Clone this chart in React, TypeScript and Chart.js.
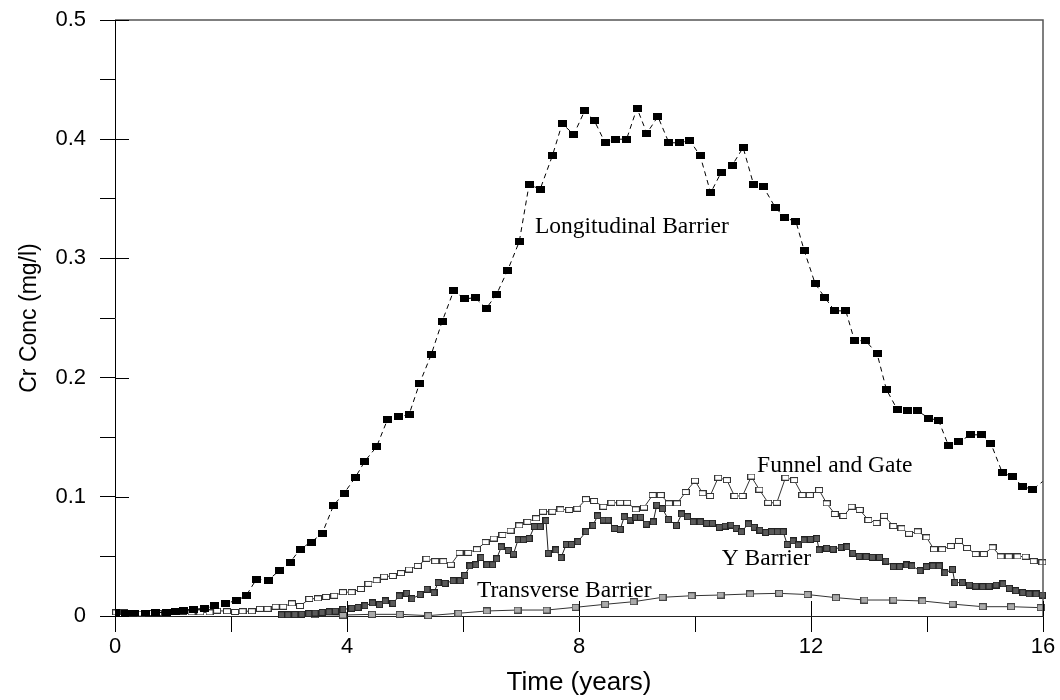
import React, { useEffect, useRef } from 'react';
import { Chart, registerables } from 'chart.js';

Chart.register(...registerables);

// ---- Data (time in years, Cr concentration in mg/l) ----
const longT = [0.0, 0.18, 0.34, 0.52, 0.7, 0.88, 1.05, 1.18, 1.35, 1.55, 1.72, 1.9, 2.09, 2.26, 2.44, 2.64, 2.83, 3.02, 3.19, 3.38, 3.57, 3.77, 3.95, 4.14, 4.31, 4.51, 4.7, 4.88, 5.07, 5.25, 5.45, 5.64, 5.84, 6.02, 6.21, 6.4, 6.58, 6.77, 6.97, 7.14, 7.33, 7.54, 7.71, 7.91, 8.1, 8.26, 8.45, 8.63, 8.82, 9.0, 9.17, 9.36, 9.55, 9.74, 9.91, 10.09, 10.27, 10.45, 10.64, 10.83, 11.01, 11.18, 11.38, 11.55, 11.74, 11.88, 12.07, 12.24, 12.41, 12.6, 12.75, 12.94, 13.14, 13.3, 13.49, 13.66, 13.84, 14.03, 14.2, 14.37, 14.55, 14.75, 14.94, 15.1, 15.3, 15.48, 15.64, 15.82, 16.1];
const longV = [0.003, 0.002, 0.002, 0.002, 0.003, 0.003, 0.004, 0.0045, 0.0056, 0.0065, 0.0084, 0.0107, 0.0128, 0.017, 0.031, 0.03, 0.038, 0.045, 0.056, 0.062, 0.069, 0.093, 0.103, 0.116, 0.13, 0.142, 0.165, 0.167, 0.169, 0.195, 0.219, 0.247, 0.273, 0.266, 0.267, 0.258, 0.27, 0.29, 0.314, 0.362, 0.358, 0.386, 0.413, 0.404, 0.424, 0.416, 0.397, 0.4, 0.4, 0.426, 0.405, 0.419, 0.397, 0.397, 0.399, 0.386, 0.355, 0.372, 0.378, 0.393, 0.362, 0.36, 0.343, 0.334, 0.331, 0.307, 0.279, 0.267, 0.256, 0.256, 0.231, 0.231, 0.22, 0.19, 0.173, 0.172, 0.172, 0.166, 0.164, 0.143, 0.146, 0.152, 0.152, 0.145, 0.12, 0.117, 0.109, 0.106, 0.117];

const funnelT = [0.02, 0.16, 0.31, 0.45, 0.6, 0.74, 0.89, 1.03, 1.18, 1.32, 1.47, 1.63, 1.76, 1.93, 2.07, 2.2, 2.36, 2.5, 2.63, 2.77, 2.9, 3.05, 3.19, 3.35, 3.5, 3.64, 3.78, 3.93, 4.08, 4.24, 4.37, 4.51, 4.64, 4.79, 4.93, 5.07, 5.22, 5.37, 5.52, 5.66, 5.79, 5.94, 6.09, 6.24, 6.39, 6.53, 6.68, 6.82, 6.97, 7.11, 7.26, 7.38, 7.54, 7.68, 7.83, 7.97, 8.12, 8.26, 8.42, 8.56, 8.71, 8.83, 8.98, 9.12, 9.27, 9.41, 9.55, 9.69, 9.84, 10.0, 10.13, 10.26, 10.4, 10.55, 10.68, 10.82, 10.97, 11.11, 11.26, 11.41, 11.56, 11.71, 11.85, 11.98, 12.14, 12.27, 12.41, 12.56, 12.7, 12.84, 12.99, 13.13, 13.26, 13.42, 13.56, 13.69, 13.84, 13.99, 14.12, 14.26, 14.41, 14.55, 14.69, 14.84, 14.98, 15.13, 15.27, 15.41, 15.56, 15.7, 15.84, 15.99];
const funnelV = [0.003, 0.003, 0.0025, 0.002, 0.0025, 0.0025, 0.003, 0.003, 0.0035, 0.003, 0.003, 0.003, 0.0045, 0.004, 0.0034, 0.004, 0.004, 0.006, 0.006, 0.0078, 0.0078, 0.0106, 0.0084, 0.0143, 0.0148, 0.016, 0.017, 0.02, 0.02, 0.0227, 0.027, 0.03, 0.033, 0.0336, 0.036, 0.039, 0.042, 0.048, 0.046, 0.046, 0.043, 0.053, 0.053, 0.056, 0.062, 0.065, 0.068, 0.0716, 0.076, 0.079, 0.082, 0.0875, 0.0875, 0.0895, 0.089, 0.09, 0.098, 0.0965, 0.0917, 0.095, 0.095, 0.095, 0.0895, 0.091, 0.1015, 0.1015, 0.0945, 0.0945, 0.104, 0.1135, 0.103, 0.1007, 0.116, 0.114, 0.1007, 0.1007, 0.117, 0.106, 0.095, 0.095, 0.116, 0.114, 0.1015, 0.1015, 0.1057, 0.0945, 0.0856, 0.0839, 0.0917, 0.089, 0.0805, 0.078, 0.084, 0.0755, 0.0736, 0.069, 0.071, 0.066, 0.056, 0.056, 0.0587, 0.063, 0.057, 0.052, 0.052, 0.0576, 0.05, 0.05, 0.05, 0.0498, 0.046, 0.045];

const yBarT = [2.87, 2.98, 3.1, 3.22, 3.34, 3.45, 3.57, 3.69, 3.8, 3.93, 4.08, 4.19, 4.31, 4.44, 4.56, 4.66, 4.79, 4.9, 5.03, 5.12, 5.26, 5.38, 5.5, 5.57, 5.69, 5.83, 5.95, 6.03, 6.12, 6.22, 6.31, 6.41, 6.51, 6.58, 6.66, 6.78, 6.87, 6.95, 7.04, 7.14, 7.23, 7.33, 7.43, 7.47, 7.6, 7.69, 7.78, 7.87, 7.98, 8.12, 8.24, 8.32, 8.42, 8.5, 8.61, 8.71, 8.78, 8.88, 8.98, 9.06, 9.16, 9.28, 9.34, 9.44, 9.54, 9.68, 9.77, 9.87, 9.97, 10.09, 10.2, 10.3, 10.42, 10.52, 10.62, 10.71, 10.8, 10.92, 11.02, 11.12, 11.22, 11.32, 11.42, 11.52, 11.59, 11.69, 11.78, 11.88, 11.99, 12.1, 12.14, 12.27, 12.38, 12.52, 12.62, 12.72, 12.83, 12.95, 13.06, 13.18, 13.29, 13.42, 13.53, 13.65, 13.74, 13.88, 13.99, 14.1, 14.21, 14.31, 14.44, 14.48, 14.61, 14.73, 14.84, 14.96, 15.07, 15.19, 15.31, 15.42, 15.53, 15.65, 15.76, 15.88, 15.99];
const yBarV = [0.001, 0.001, 0.0012, 0.0015, 0.002, 0.0025, 0.003, 0.0035, 0.004, 0.0055, 0.0065, 0.0072, 0.0086, 0.011, 0.0095, 0.0126, 0.0106, 0.0168, 0.019, 0.0145, 0.018, 0.0224, 0.0196, 0.028, 0.0274, 0.0296, 0.0296, 0.034, 0.042, 0.043, 0.049, 0.043, 0.043, 0.048, 0.058, 0.055, 0.052, 0.064, 0.064, 0.065, 0.075, 0.075, 0.08, 0.0526, 0.0554, 0.049, 0.06, 0.06, 0.0623, 0.0707, 0.076, 0.084, 0.0805, 0.0805, 0.0735, 0.0727, 0.0833, 0.0805, 0.0828, 0.0828, 0.077, 0.079, 0.093, 0.09, 0.081, 0.076, 0.0856, 0.0833, 0.079, 0.079, 0.0778, 0.0778, 0.0744, 0.0755, 0.0763, 0.0736, 0.0707, 0.0772, 0.0744, 0.072, 0.07, 0.0707, 0.0707, 0.0707, 0.06, 0.063, 0.0596, 0.0638, 0.0643, 0.065, 0.0554, 0.0568, 0.056, 0.0576, 0.058, 0.0526, 0.05, 0.0498, 0.0492, 0.0492, 0.046, 0.0414, 0.0414, 0.0428, 0.042, 0.038, 0.0414, 0.042, 0.042, 0.0363, 0.039, 0.028, 0.028, 0.026, 0.025, 0.0246, 0.025, 0.026, 0.027, 0.0232, 0.0212, 0.0196, 0.0185, 0.0185, 0.0176];

const transT = [2.96, 3.45, 3.93, 4.43, 4.91, 5.4, 5.92, 6.41, 6.94, 7.44, 7.94, 8.45, 8.94, 9.44, 9.94, 10.44, 10.95, 11.45, 11.94, 12.43, 12.92, 13.42, 13.92, 14.44, 14.96, 15.45, 15.96];
const transV = [0.001, 0.001, 0.0008, 0.0014, 0.0014, 0.0003, 0.0023, 0.0042, 0.005, 0.005, 0.0073, 0.0098, 0.012, 0.0157, 0.017, 0.0176, 0.0185, 0.019, 0.018, 0.0154, 0.0134, 0.0134, 0.0126, 0.01, 0.0078, 0.0078, 0.007];

const seriesNames = ['Longitudinal Barrier', 'Funnel and Gate', 'Y Barrier', 'Transverse Barrier'];
const labelT = [7.24, 11.07, 10.46, 6.24];
const labelV = [0.321, 0.121, 0.0428, 0.0157];

const xTickLabels = ['0', '4', '8', '12', '16'];
const yTickLabels = ['0', '0.1', '0.2', '0.3', '0.4', '0.5'];

const xTitle = 'Time (years)';
const yTitle = 'Cr Conc (mg/l)';

function makeMarker(w: number, h: number, fill: string, stroke: string | null) {
  const c = document.createElement('canvas');
  c.width = w;
  c.height = h;
  const g = c.getContext('2d')!;
  g.fillStyle = fill;
  g.fillRect(0, 0, w, h);
  if (stroke) {
    g.strokeStyle = stroke;
    g.lineWidth = 1;
    g.strokeRect(0.5, 0.5, w - 1, h - 1);
  }
  return c;
}

function toPoints(t: number[], v: number[]) {
  return t.map((x, i) => ({ x, y: v[i] }));
}

function isLabelled(list: string[], v: number) {
  return list.find((l) => Math.abs(Number(l) - v) < 1e-9);
}

const framePlugin = {
  id: 'frame',
  afterDatasetsDraw(chart: any) {
    const { ctx, chartArea } = chart;
    const { left, right, top, bottom } = chartArea;
    const xs = chart.scales.x;
    const ys = chart.scales.y;
    ctx.save();
    ctx.strokeStyle = '#555';
    ctx.lineWidth = 1.5;
    ctx.beginPath();
    ctx.moveTo(left, top);
    ctx.lineTo(right, top);
    ctx.lineTo(right, bottom);
    ctx.stroke();

    ctx.strokeStyle = '#000';
    ctx.lineWidth = 1;
    ctx.beginPath();
    xs.ticks.forEach((tk: any) => {
      if (isLabelled(xTickLabels, tk.value)) {
        const px = Math.round(xs.getPixelForValue(tk.value)) + 0.5;
        ctx.moveTo(px, bottom);
        ctx.lineTo(px, bottom - 15);
      }
    });
    ys.ticks.forEach((tk: any) => {
      if (isLabelled(yTickLabels, tk.value)) {
        const py = Math.round(ys.getPixelForValue(tk.value)) + 0.5;
        ctx.moveTo(left, py);
        ctx.lineTo(left + 14, py);
      }
    });
    ctx.stroke();

    ctx.font = '23.5px "Liberation Serif", "Times New Roman", serif';
    ctx.fillStyle = '#000';
    ctx.textAlign = 'left';
    ctx.textBaseline = 'alphabetic';
    seriesNames.forEach((n, i) => {
      ctx.fillText(n, xs.getPixelForValue(labelT[i]), ys.getPixelForValue(labelV[i]));
    });
    ctx.restore();
  },
};

export default function App() {
  const ref = useRef<HTMLCanvasElement | null>(null);

  useEffect(() => {
    document.body.style.margin = '0';
    const canvas = ref.current;
    if (!canvas) return;

    const mLong = makeMarker(9, 7, '#000', null);
    const mFunnel = makeMarker(8, 6, '#fff', '#333');
    const mY = makeMarker(7, 7, '#5a5a5a', '#222');
    const mTrans = makeMarker(8, 7, '#aaa', '#444');

    const tickFont = { family: '"Liberation Sans", Arial, sans-serif', size: 22 };
    const xTitleFont = { family: '"Liberation Sans", Arial, sans-serif', size: 26 };
    const yTitleFont = { family: '"Liberation Sans", Arial, sans-serif', size: 23 };

    const chart = new Chart(canvas, {
      type: 'line',
      data: {
        datasets: [
          {
            label: seriesNames[0],
            data: toPoints(longT, longV),
            borderColor: '#000',
            borderWidth: 1,
            borderDash: [5, 4],
            pointStyle: mLong as any,
            pointRadius: 4,
            clip: 0 as any,
          },
          {
            label: seriesNames[1],
            data: toPoints(funnelT, funnelV),
            borderColor: '#333',
            borderWidth: 1,
            pointStyle: mFunnel as any,
            pointRadius: 4,
            clip: false as any,
          },
          {
            label: seriesNames[2],
            data: toPoints(yBarT, yBarV),
            borderColor: '#222',
            borderWidth: 1,
            pointStyle: mY as any,
            pointRadius: 4,
            clip: false as any,
          },
          {
            label: seriesNames[3],
            data: toPoints(transT, transV),
            borderColor: '#333',
            borderWidth: 1,
            pointStyle: mTrans as any,
            pointRadius: 4,
            clip: false as any,
          },
        ],
      },
      options: {
        animation: false,
        responsive: false,
        events: [],
        layout: { padding: { top: 20, right: 17, bottom: 0, left: 0 } },
        plugins: {
          legend: { display: false },
          tooltip: { enabled: false },
        },
        scales: {
          x: {
            type: 'linear',
            min: 0,
            max: 16,
            afterFit: (s: any) => {
              s.height = 84;
              s.paddingLeft = 0;
              s.paddingRight = 0;
            },
            ticks: {
              stepSize: 2,
              autoSkip: false,
              maxRotation: 0,
              padding: 2,
              color: '#000',
              font: tickFont,
              callback: (v: any) => isLabelled(xTickLabels, Number(v)) ?? '',
            },
            grid: {
              drawOnChartArea: false,
              drawTicks: true,
              tickLength: 16,
              color: '#000',
              lineWidth: 1,
            },
            border: { display: true, color: '#222', width: 1 },
            title: {
              display: true,
              text: xTitle,
              color: '#000',
              font: xTitleFont,
              padding: { top: 0, bottom: 2 },
            },
          },
          y: {
            type: 'linear',
            min: 0,
            max: 0.5,
            afterFit: (s: any) => {
              s.width = 115;
              s.paddingTop = 0;
              s.paddingBottom = 0;
            },
            ticks: {
              stepSize: 0.05,
              autoSkip: false,
              padding: 14,
              color: '#000',
              font: tickFont,
              callback: (v: any) => isLabelled(yTickLabels, Number(v)) ?? '',
            },
            grid: {
              drawOnChartArea: false,
              drawTicks: true,
              tickLength: 15,
              color: '#000',
              lineWidth: 1,
            },
            border: { display: true, color: '#000', width: 1 },
            title: {
              display: true,
              text: yTitle,
              color: '#000',
              font: yTitleFont,
              padding: { top: 16, bottom: 0 },
            },
          },
        },
      },
      plugins: [framePlugin],
    });

    return () => {
      chart.destroy();
    };
  }, []);

  return (
    <div style={{ width: 1060, height: 700, background: '#fff' }}>
      <canvas ref={ref} width={1060} height={700} style={{ display: 'block' }} />
    </div>
  );
}
